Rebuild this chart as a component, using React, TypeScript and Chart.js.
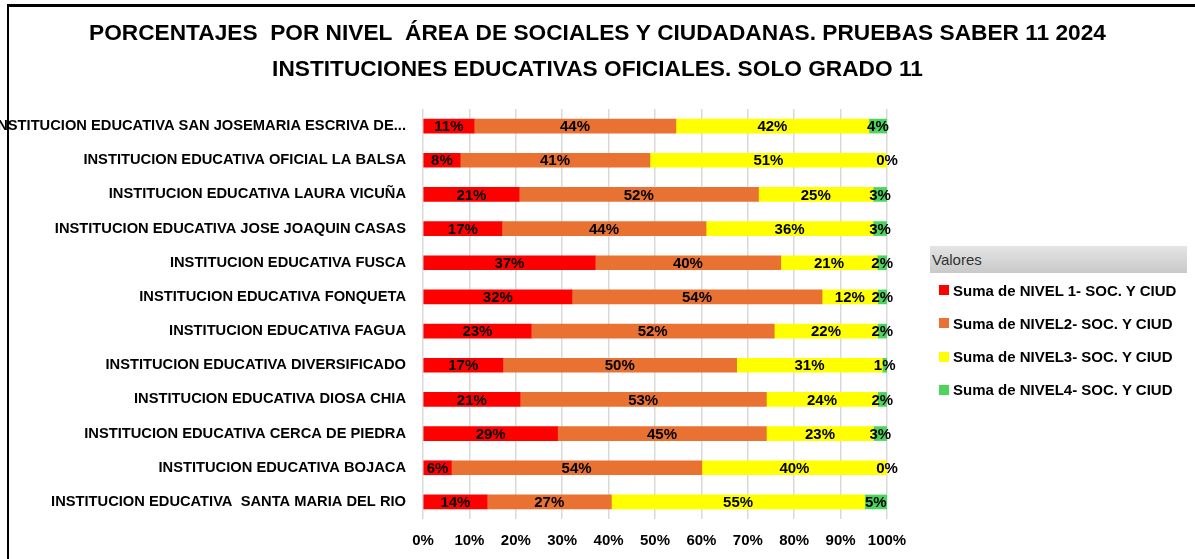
import React, { useEffect, useRef } from "react";
import { Chart, registerables } from "chart.js";

Chart.register(...registerables);

const categories: string[] = [
  "INSTITUCION EDUCATIVA SAN JOSEMARIA ESCRIVA DE...",
  "INSTITUCION EDUCATIVA OFICIAL LA BALSA",
  "INSTITUCION EDUCATIVA LAURA VICUÑA",
  "INSTITUCION EDUCATIVA JOSE JOAQUIN CASAS",
  "INSTITUCION EDUCATIVA FUSCA",
  "INSTITUCION EDUCATIVA FONQUETA",
  "INSTITUCION EDUCATIVA FAGUA",
  "INSTITUCION EDUCATIVA DIVERSIFICADO",
  "INSTITUCION EDUCATIVA DIOSA CHIA",
  "INSTITUCION EDUCATIVA CERCA DE PIEDRA",
  "INSTITUCION EDUCATIVA BOJACA",
  "INSTITUCION EDUCATIVA  SANTA MARIA DEL RIO",
];

const nivel1: number[] = [11.0, 8.0, 20.7, 17.0, 37.1, 32.1, 23.3, 17.2, 20.9, 29.0, 6.1, 13.8];
const nivel2: number[] = [43.5, 40.9, 51.6, 44.0, 40.0, 53.9, 52.4, 50.4, 53.1, 45.0, 54.0, 26.8];
const nivel3: number[] = [41.6, 51.1, 24.7, 36.0, 20.8, 12.0, 22.3, 31.4, 24.0, 23.1, 39.9, 54.6];
const nivel4: number[] = [3.9, 0.0, 3.0, 3.0, 2.1, 2.0, 2.0, 1.0, 2.0, 2.9, 0.0, 4.8];

const seriesNames: string[] = [
  "Suma de NIVEL 1- SOC. Y CIUD",
  "Suma de NIVEL2- SOC. Y CIUD",
  "Suma de NIVEL3- SOC. Y CIUD",
  "Suma de NIVEL4- SOC. Y CIUD",
];
const seriesColors: string[] = ["#FF0000", "#E97132", "#FFFF00", "#4CD45E"];

const titleLines: string[] = [
  "PORCENTAJES  POR NIVEL  ÁREA DE SOCIALES Y CIUDADANAS. PRUEBAS SABER 11 2024",
  "INSTITUCIONES EDUCATIVAS OFICIALES. SOLO GRADO 11",
];

const legendTitle = "Valores";

const labelFont = "'Liberation Sans', Arial, sans-serif";

const dataLabelPlugin = {
  id: "dataLabels",
  afterDatasetsDraw(chart: any) {
    const ctx = chart.ctx;
    ctx.save();
    ctx.font = `bold 15px ${labelFont}`;
    ctx.fillStyle = "#000";
    ctx.textAlign = "center";
    ctx.textBaseline = "middle";
    chart.data.datasets.forEach((ds: any, di: number) => {
      const meta = chart.getDatasetMeta(di);
      meta.data.forEach((bar: any, i: number) => {
        const v = ds.data[i];
        const x = (bar.x + bar.base) / 2;
        ctx.fillText(Math.round(v) + "%", x, bar.y + 1);
      });
    });
    ctx.restore();
  },
};

const titlePlugin = {
  id: "centeredTitle",
  afterDraw(chart: any) {
    const ctx = chart.ctx;
    ctx.save();
    ctx.font = `bold 22.7px ${labelFont}`;
    ctx.fillStyle = "#000";
    ctx.textAlign = "center";
    ctx.textBaseline = "middle";
    titleLines.forEach((t, i) => {
      ctx.fillText(t, chart.width / 2, 34 + i * 36);
    });
    ctx.restore();
  },
};

export default function App() {
  const ref = useRef<HTMLCanvasElement | null>(null);

  useEffect(() => {
    if (!ref.current) return;
    const data = [nivel1, nivel2, nivel3, nivel4];
    const chart = new Chart(ref.current, {
      type: "bar",
      data: {
        labels: categories,
        datasets: data.map((d, i) => ({
          label: seriesNames[i],
          data: d,
          backgroundColor: seriesColors[i],
          borderWidth: 0,
          barThickness: 14,
        })),
      },
      options: {
        indexAxis: "y",
        animation: false,
        responsive: false,
        maintainAspectRatio: false,
        layout: { padding: { left: 0, right: 308, top: 109, bottom: 9 } },
        plugins: {
          legend: { display: false },
          tooltip: { enabled: false },
          title: { display: false },
        },
        scales: {
          x: {
            stacked: true,
            min: 0,
            max: 100,
            ticks: {
              stepSize: 10,
              callback: (v: any) => v + "%",
              color: "#000",
              font: { family: labelFont, size: 15, weight: "bold" },
              padding: 13,
            },
            grid: { display: true, color: "#d9d9d9", lineWidth: 1.5, drawTicks: false },
            border: { display: false },
            afterFit: (scale: any) => {
              scale.height = 31;
            },
          },
          y: {
            stacked: true,
            ticks: {
              color: "#000",
              font: { family: labelFont, size: 14.7, weight: "bold" },
              padding: 17,
              autoSkip: false,
            },
            grid: { display: false, drawTicks: false },
            border: { display: false },
            afterFit: (scale: any) => {
              scale.width = 423;
            },
          },
        },
      },
      plugins: [dataLabelPlugin, titlePlugin],
    });
    return () => chart.destroy();
  }, []);

  return (
    <div
      style={{
        position: "fixed",
        left: 0,
        top: 0,
        width: 1195,
        height: 559,
        background: "#fff",
        overflow: "hidden",
      }}
    >
      <canvas ref={ref} width={1195} height={559} style={{ position: "absolute", left: 0, top: 0 }} />
      <div style={{ position: "absolute", left: 7, top: 4, width: 1188, height: 3, background: "#000" }} />
      <div style={{ position: "absolute", left: 7, top: 4, width: 2, height: 555, background: "#000" }} />
      <div
        style={{
          position: "absolute",
          left: 930,
          top: 246,
          width: 257,
          height: 27,
          background: "linear-gradient(#e4e4e4, #c9c9c9)",
          fontFamily: labelFont,
          fontSize: 15,
          lineHeight: "27px",
          color: "#333",
          paddingLeft: 2,
          boxSizing: "border-box",
        }}
      >
        {legendTitle}
      </div>
      {seriesNames.map((n, i) => (
        <div
          key={n}
          style={{
            position: "absolute",
            left: 939,
            top: 280 + i * 33.3,
            height: 20,
            display: "flex",
            alignItems: "center",
            fontFamily: labelFont,
            fontWeight: "bold",
            fontSize: 15,
            color: "#000",
            whiteSpace: "nowrap",
          }}
        >
          <span style={{ display: "inline-block", width: 10, height: 10, background: seriesColors[i], marginRight: 4 }} />
          {n}
        </div>
      ))}
    </div>
  );
}
